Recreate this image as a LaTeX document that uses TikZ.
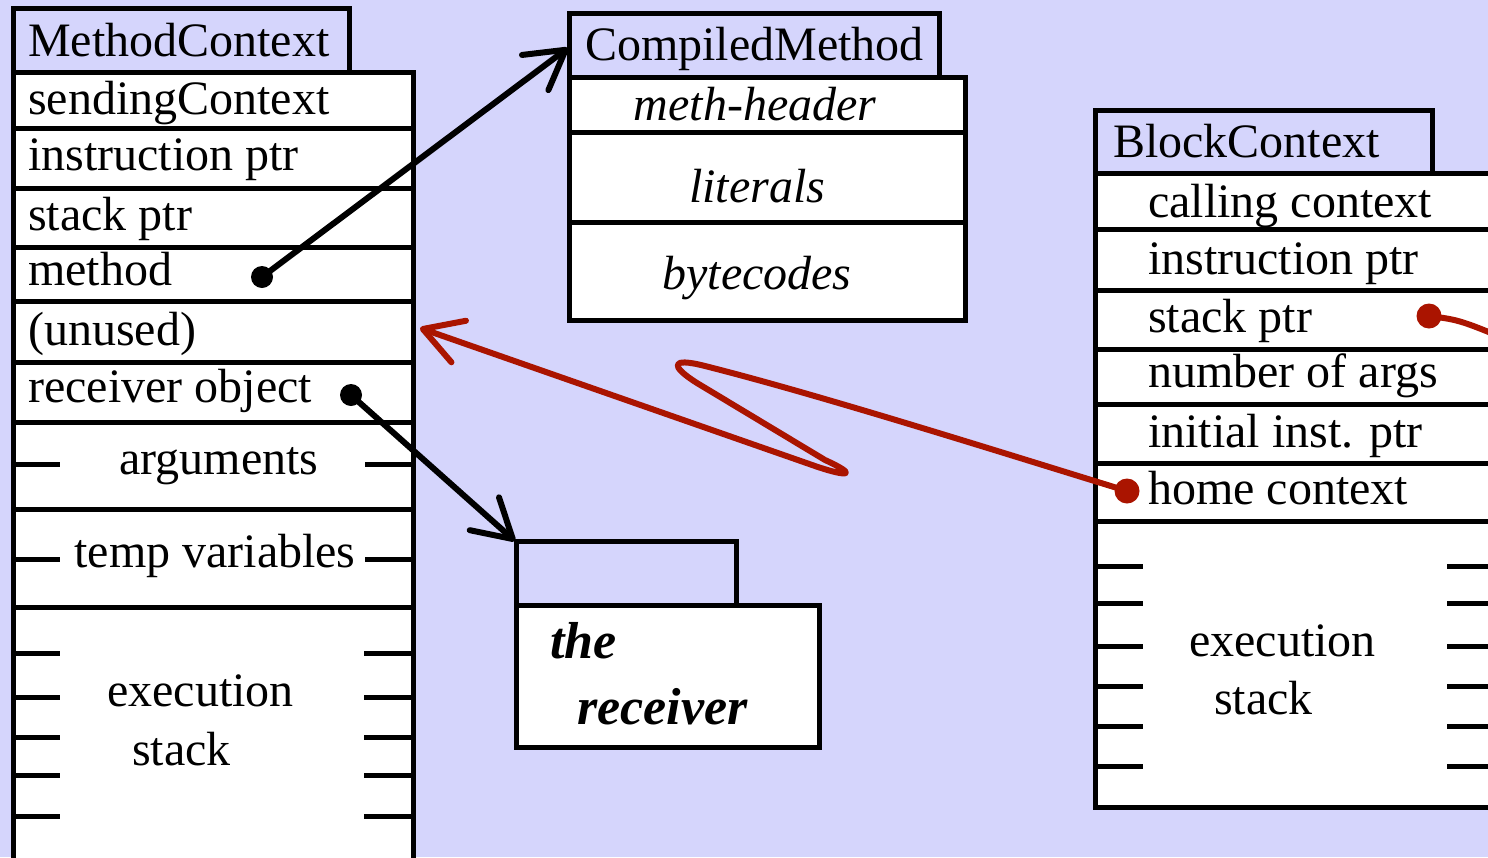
\documentclass[tikz,border=0pt]{standalone}
\usepackage{fontspec}
\setmainfont{Liberation Serif}
\usetikzlibrary{arrows.meta}
\definecolor{bg}{RGB}{213,213,252}
\definecolor{ptrred}{RGB}{170,20,0}
\begin{document}
\begin{tikzpicture}[x=1pt,y=-1pt,
  boxline/.style={line width=5pt, line join=miter},
  tabbox/.style={boxline, fill=bg},
  bodybox/.style={boxline, fill=white},
  sepline/.style={line width=5pt},
  lbl/.style={inner sep=0pt, anchor=base west, font=\fontsize{48}{58}\selectfont},
  clbl/.style={lbl, anchor=base},
  ilbl/.style={clbl, font=\fontsize{48}{58}\selectfont\itshape},
  bilbl/.style={lbl, font=\fontsize{52}{60}\selectfont\bfseries\itshape},
  blackdot/.style={circle, fill=black, inner sep=0pt, minimum size=22pt},
  reddot/.style={circle, fill=ptrred, inner sep=0pt, minimum size=25pt},
  ptrarrow/.style={line width=6pt, line cap=round, line join=round,
    -{Straight Barb[length=38pt,width=44pt,round]}},
]
\useasboundingbox (0,0) rectangle (1488,857);
\clip (0,0) rectangle (1488,857);
\fill[bg] (0,0) rectangle (1488,857);

% ---------------- MethodContext ----------------
\draw[tabbox] (13,8) rectangle (349,72);
\draw[bodybox] (13,72) rectangle (413,875);
\foreach \y in {128,188,247,301,362,422,509,607}
  \draw[sepline] (13,\y) -- (413,\y);
\foreach \y in {464,559}
  {\draw[sepline] (13,\y) -- (60,\y); \draw[sepline] (365,\y) -- (413,\y);}
\foreach \y in {653,697,737,775,816}
  {\draw[sepline] (13,\y) -- (60,\y); \draw[sepline] (364,\y) -- (413,\y);}
\node[lbl] (mc) at (28,56) {MethodContext};
\node[lbl] (mc1) at (28,114) {sendingContext};
\node[lbl] (mc2) at (28,170) {instruction ptr};
\node[lbl] (mc3) at (28,230) {stack ptr};
\node[lbl] (mc4) at (28,285) {method};
\node[lbl] (mc5) at (28,345) {(unused)};
\node[lbl] (mc6) at (28,402) {receiver object};
\node[clbl] (mc7) at (219,474) {arguments};
\node[clbl] (mc8) at (215,567) {temp variables};
\node[lbl] (mc9) at (107,706) {execution};
\node[lbl] (mc10) at (132,765) {stack};

% ---------------- CompiledMethod ----------------
\draw[tabbox] (569,13) rectangle (939,77);
\draw[bodybox] (569,77) rectangle (965,320);
\foreach \y in {132,222}
  \draw[sepline] (569,\y) -- (965,\y);
\node[lbl] (cm) at (585,60) {CompiledMethod};
\node[ilbl] (cm1) at (755,120) {meth-header};
\node[ilbl] (cm2) at (757,202) {literals};
\node[ilbl] (cm3) at (757,289) {bytecodes};
\coordinate (cmtip) at (568,48);

% ---------------- the receiver ----------------
\draw[tabbox] (516,541) rectangle (736,605);
\draw[bodybox] (516,605) rectangle (819,747);
\node[bilbl] (rc1) at (550,658) {the};
\node[bilbl] (rc2) at (577,724) {receiver};
\coordinate (rctip) at (515,541);

% ---------------- BlockContext ----------------
\draw[tabbox] (1095,110) rectangle (1432,173);
\draw[bodybox] (1095,173) rectangle (1560,807);
\foreach \y in {229,290,349,404,463,521}
  \draw[sepline] (1095,\y) -- (1560,\y);
\foreach \y in {566,603,646,686,726,766}
  {\draw[sepline] (1095,\y) -- (1143,\y); \draw[sepline] (1447,\y) -- (1560,\y);}
\node[lbl] (bc) at (1113,157) {BlockContext};
\node[lbl] (bc1) at (1148,217) {calling context};
\node[lbl] (bc2) at (1148,274) {instruction ptr};
\node[lbl] (bc3) at (1148,332) {stack ptr};
\node[lbl] (bc4) at (1148,387) {number of args};
\node[lbl] (bc5) at (1148,447) {initial inst. ptr};
\node[lbl] (bc6) at (1148,504) {home context};
\node[lbl] (bc7) at (1189,656) {execution};
\node[lbl] (bc8) at (1214,714) {stack};

% ---------------- pointers ----------------
\node[blackdot] (mdot) at (262,277) {};
\node[blackdot] (rdot) at (351,395) {};
\node[reddot] (hdot) at (1127,491) {};
\node[reddot] (sdot) at (1429,316) {};
\coordinate (mctip) at (420,328);
\coordinate (offright) at (1520,345);

\draw[ptrarrow] (mdot.center) -- (cmtip);
\draw[ptrarrow] (rdot.center) -- (rctip);
\draw[ptrarrow, ptrred] (hdot.center)
  .. controls (1000,452) and (820,395) .. (705,366)
  .. controls (670,357) and (670,366) .. (697,383)
  -- (825,460)
  .. controls (858,475) and (850,478) .. (815,466)
  -- (mctip);
\draw[line width=6pt, line cap=round, ptrred] (sdot.center)
  .. controls (1460,320) .. (offright);
\end{tikzpicture}
\end{document}
